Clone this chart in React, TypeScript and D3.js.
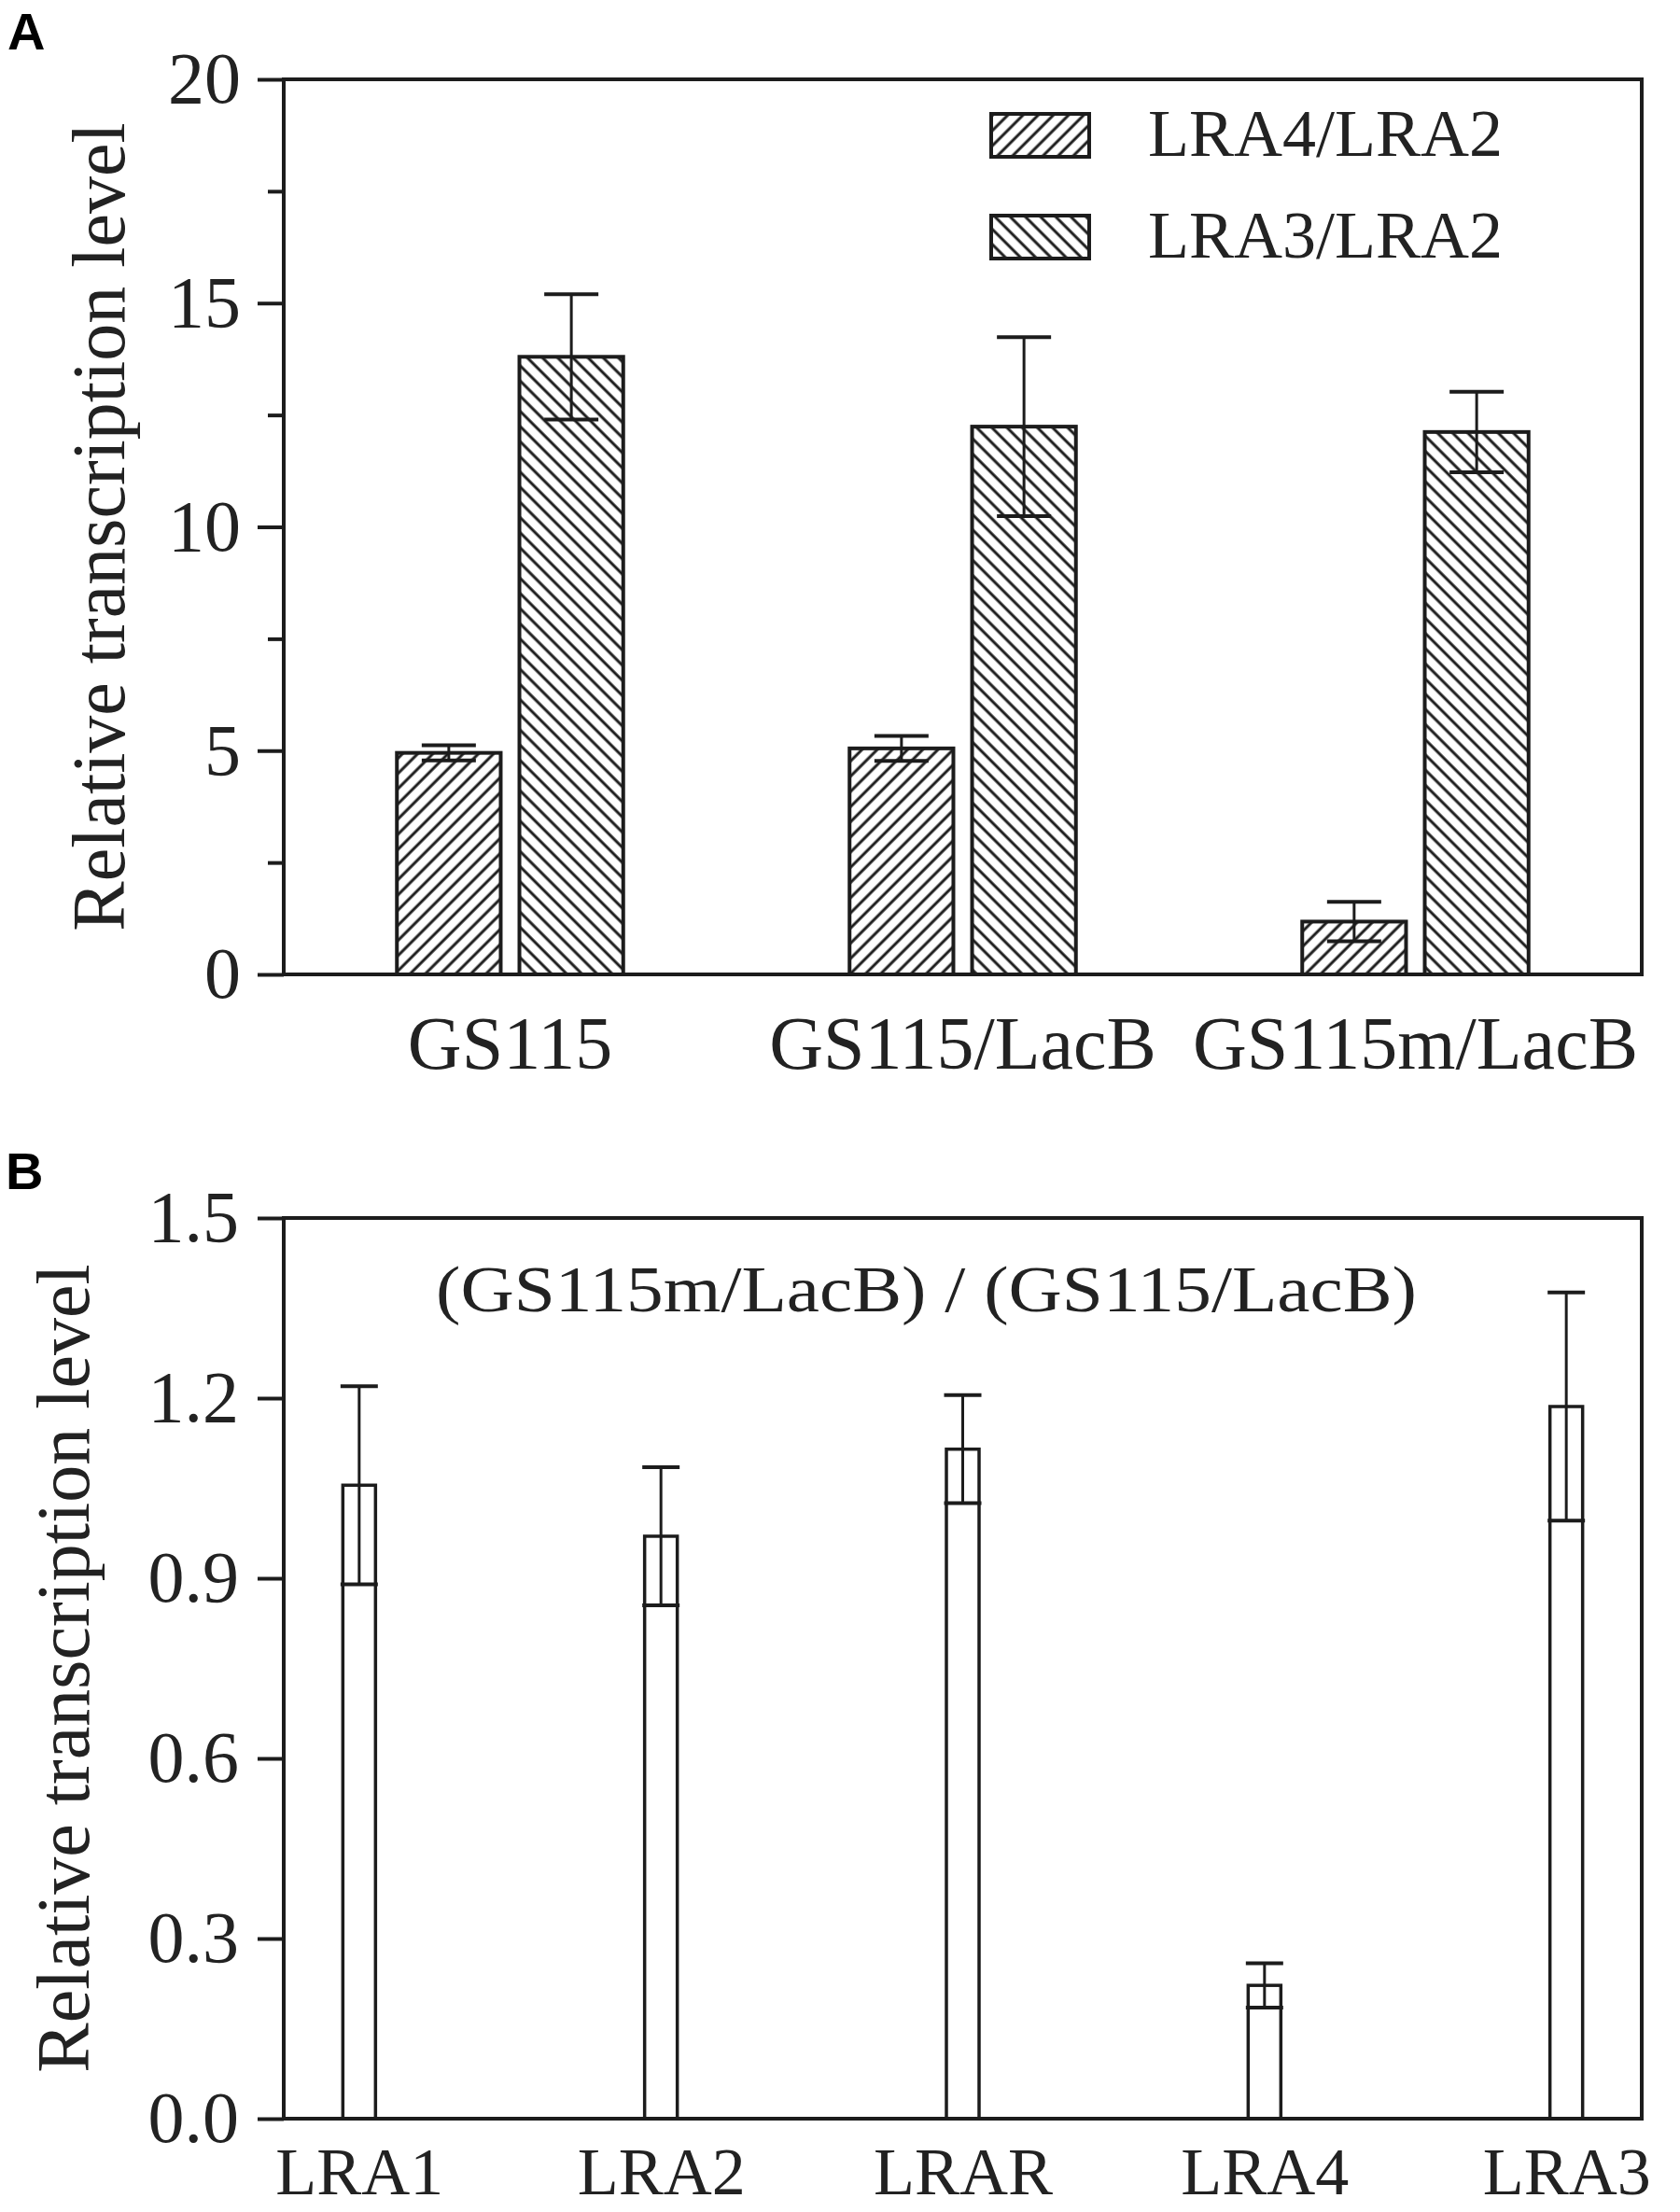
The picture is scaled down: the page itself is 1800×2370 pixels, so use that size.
import React, { useRef, useEffect } from "react"
import * as d3 from "d3"

// panel A
const groupsA = ["GS115", "GS115/LacB", "GS115m/LacB"]
const seriesA = ["LRA4/LRA2", "LRA3/LRA2"]
const lra4Values = [4.95, 5.05, 1.18]
const lra4Errors = [0.17, 0.28, 0.44]
const lra3Values = [13.8, 12.24, 12.12]
const lra3Errors = [1.4, 2.0, 0.9]
const ticksA = [0, 5, 10, 15, 20]
const minorTicksA = [2.5, 7.5, 12.5, 17.5]

// panel B
const genesB = ["LRA1", "LRA2", "LRAR", "LRA4", "LRA3"]
const ratioValues = [1.055, 0.97, 1.115, 0.222, 1.186]
const ratioErrors = [0.165, 0.115, 0.09, 0.037, 0.19]
const ticksB = [0, 0.3, 0.6, 0.9, 1.2, 1.5]
const titleB = "(GS115m/LacB) / (GS115/LacB)"
const yTitle = "Relative transcription level"

const serif = "'Liberation Serif', 'Times New Roman', serif"
const ink = "#1c1c1c"

const App: React.FunctionComponent = () => {
	const svgRef = useRef<SVGSVGElement>(null)

	useEffect(() => {
		const svg = d3.select(svgRef.current)
		svg.selectAll("*").remove()

		const left = 304
		const right = 1759

		// hatch patterns
		const defs = svg.append("defs")
		const hatch = (id: string, angle: number) => {
			const p = defs
				.append("pattern")
				.attr("id", id)
				.attr("patternUnits", "userSpaceOnUse")
				.attr("width", 11.5)
				.attr("height", 11.5)
				.attr("patternTransform", `rotate(${angle})`)
			p.append("rect").attr("width", 11.5).attr("height", 11.5).attr("fill", "#fff")
			p.append("line")
				.attr("x1", 2)
				.attr("x2", 2)
				.attr("y1", -1)
				.attr("y2", 13)
				.attr("stroke", ink)
				.attr("stroke-width", 3)
		}
		hatch("fwd", 45)
		hatch("back", -45)
		const fills = ["url(#fwd)", "url(#back)"]

		// ---------- panel A ----------
		const topA = 85
		const bottomA = 1044
		const yA = d3.scaleLinear().domain([0, 20]).range([bottomA, topA])
		const x0 = d3.scaleBand().domain(groupsA).range([left, right]).paddingInner(0.5).paddingOuter(0.25)
		const x1 = d3.scaleBand().domain(seriesA).range([0, x0.bandwidth()]).paddingInner(0.1527)

		const gA = svg.append("g")
		const seriesData = [
			{ key: seriesA[0], values: lra4Values, errors: lra4Errors },
			{ key: seriesA[1], values: lra3Values, errors: lra3Errors },
		]

		seriesData.forEach((s, si) => {
			const bars = groupsA.map((g, i) => ({ g, v: s.values[i], e: s.errors[i] }))
			gA.selectAll(`.barA${si}`)
				.data(bars)
				.join("rect")
				.attr("x", (d) => (x0(d.g) as number) + (x1(s.key) as number))
				.attr("y", (d) => yA(d.v))
				.attr("width", x1.bandwidth())
				.attr("height", (d) => bottomA - yA(d.v))
				.attr("fill", fills[si])
				.attr("stroke", ink)
				.attr("stroke-width", 4)

			const err = gA.selectAll(`.errA${si}`).data(bars).join("g")
			const cx = (d: any) => (x0(d.g) as number) + (x1(s.key) as number) + x1.bandwidth() / 2
			err.append("line")
				.attr("x1", cx)
				.attr("x2", cx)
				.attr("y1", (d) => yA(d.v + d.e))
				.attr("y2", (d) => yA(d.v - d.e))
				.attr("stroke", ink)
				.attr("stroke-width", 3)
			;[1, -1].forEach((sign) => {
				err.append("line")
					.attr("x1", (d) => cx(d) - 29)
					.attr("x2", (d) => cx(d) + 29)
					.attr("y1", (d) => yA(d.v + sign * d.e))
					.attr("y2", (d) => yA(d.v + sign * d.e))
					.attr("stroke", ink)
					.attr("stroke-width", 4)
			})
		})

		// frame
		gA.append("rect")
			.attr("x", left)
			.attr("y", topA)
			.attr("width", right - left)
			.attr("height", bottomA - topA)
			.attr("fill", "none")
			.attr("stroke", ink)
			.attr("stroke-width", 4)

		const yAxisA = gA
			.append("g")
			.attr("transform", `translate(${left},0)`)
			.call(d3.axisLeft(yA).tickValues(ticksA).tickSize(28).tickPadding(18).tickFormat(d3.format("d")))
		gA.append("g")
			.attr("transform", `translate(${left},0)`)
			.call(d3.axisLeft(yA).tickValues(minorTicksA).tickSize(17).tickFormat(() => ""))
			.call((g) => g.select(".domain").remove())
			.selectAll("line")
			.attr("stroke", ink)
			.attr("stroke-width", 4)
		yAxisA.select(".domain").remove()
		yAxisA.selectAll("line").attr("stroke", ink).attr("stroke-width", 4)
		yAxisA.selectAll("text").attr("font-family", serif).attr("font-size", 78).attr("fill", "#222")

		const xAxisA = gA
			.append("g")
			.attr("transform", `translate(0,${bottomA})`)
			.call(d3.axisBottom(x0).tickSize(0).tickPadding(44))
		xAxisA.select(".domain").remove()
		xAxisA.selectAll("text").attr("font-family", serif).attr("font-size", 80).attr("fill", "#222")

		gA.append("text")
			.attr("transform", `translate(133,${(topA + bottomA) / 2}) rotate(-90)`)
			.attr("text-anchor", "middle")
			.attr("font-family", serif)
			.attr("font-size", 80)
			.attr("fill", "#222")
			.text(yTitle)

		// legend
		const legend = gA
			.selectAll(".leg")
			.data(seriesA)
			.join("g")
			.attr("transform", (d, i) => `translate(1062,${122 + i * 109})`)
		legend.append("rect")
			.attr("width", 105)
			.attr("height", 46)
			.attr("fill", (d, i) => fills[i])
			.attr("stroke", ink)
			.attr("stroke-width", 4)
		legend.append("text")
			.attr("x", 168)
			.attr("y", 45)
			.attr("font-family", serif)
			.attr("font-size", 72)
			.attr("fill", "#222")
			.text((d) => d)

		gA.append("text")
			.attr("x", 8)
			.attr("y", 53)
			.attr("font-family", "'Liberation Sans', Arial, sans-serif")
			.attr("font-weight", "bold")
			.attr("font-size", 56)
			.text("A")

		// ---------- panel B ----------
		const topB = 1305
		const bottomB = 2270
		const yB = d3.scaleLinear().domain([0, 1.5]).range([bottomB, topB])
		const xB = d3.scalePoint().domain(genesB).range([left, right]).padding(0.25)
		const barW = 35

		const gB = svg.append("g")
		const dataB = genesB.map((g, i) => ({ g, v: ratioValues[i], e: ratioErrors[i] }))

		gB.selectAll(".barB")
			.data(dataB)
			.join("rect")
			.attr("x", (d) => (xB(d.g) as number) - barW / 2)
			.attr("y", (d) => yB(d.v))
			.attr("width", barW)
			.attr("height", (d) => bottomB - yB(d.v))
			.attr("fill", "#fff")
			.attr("stroke", ink)
			.attr("stroke-width", 3.5)

		const errB = gB.selectAll(".errB").data(dataB).join("g")
		errB.append("line")
			.attr("x1", (d) => xB(d.g) as number)
			.attr("x2", (d) => xB(d.g) as number)
			.attr("y1", (d) => yB(d.v + d.e))
			.attr("y2", (d) => yB(d.v - d.e))
			.attr("stroke", ink)
			.attr("stroke-width", 3)
		;[1, -1].forEach((sign) => {
			errB.append("line")
				.attr("x1", (d) => (xB(d.g) as number) - 20)
				.attr("x2", (d) => (xB(d.g) as number) + 20)
				.attr("y1", (d) => yB(d.v + sign * d.e))
				.attr("y2", (d) => yB(d.v + sign * d.e))
				.attr("stroke", ink)
				.attr("stroke-width", 4)
		})

		gB.append("rect")
			.attr("x", left)
			.attr("y", topB)
			.attr("width", right - left)
			.attr("height", bottomB - topB)
			.attr("fill", "none")
			.attr("stroke", ink)
			.attr("stroke-width", 4)

		const yAxisB = gB
			.append("g")
			.attr("transform", `translate(${left},0)`)
			.call(d3.axisLeft(yB).tickValues(ticksB).tickSize(28).tickPadding(20).tickFormat(d3.format(".1f")))
		yAxisB.select(".domain").remove()
		yAxisB.selectAll("line").attr("stroke", ink).attr("stroke-width", 4)
		yAxisB.selectAll("text").attr("font-family", serif).attr("font-size", 78).attr("fill", "#222")

		const xAxisB = gB
			.append("g")
			.attr("transform", `translate(0,${bottomB})`)
			.call(d3.axisBottom(xB).tickSize(0).tickPadding(30))
		xAxisB.select(".domain").remove()
		xAxisB.selectAll("text").attr("font-family", serif).attr("font-size", 72).attr("fill", "#222")

		gB.append("text")
			.attr("transform", `translate(95,${(topB + bottomB) / 2}) rotate(-90)`)
			.attr("text-anchor", "middle")
			.attr("font-family", serif)
			.attr("font-size", 80)
			.attr("fill", "#222")
			.text(yTitle)

		gB.append("text")
			.attr("x", 467)
			.attr("y", 1405)
			.attr("font-family", serif)
			.attr("font-size", 70)
			.attr("textLength", 1051)
			.attr("lengthAdjust", "spacingAndGlyphs")
			.attr("fill", "#222")
			.text(titleB)

		gB.append("text")
			.attr("x", 6)
			.attr("y", 1274)
			.attr("font-family", "'Liberation Sans', Arial, sans-serif")
			.attr("font-weight", "bold")
			.attr("font-size", 56)
			.text("B")
	}, [])

	return (
		<svg
			ref={svgRef}
			width={1800}
			height={2370}
			style={{ position: "absolute", left: 0, top: 0, background: "#fff" }}
		></svg>
	)
}

export default App
